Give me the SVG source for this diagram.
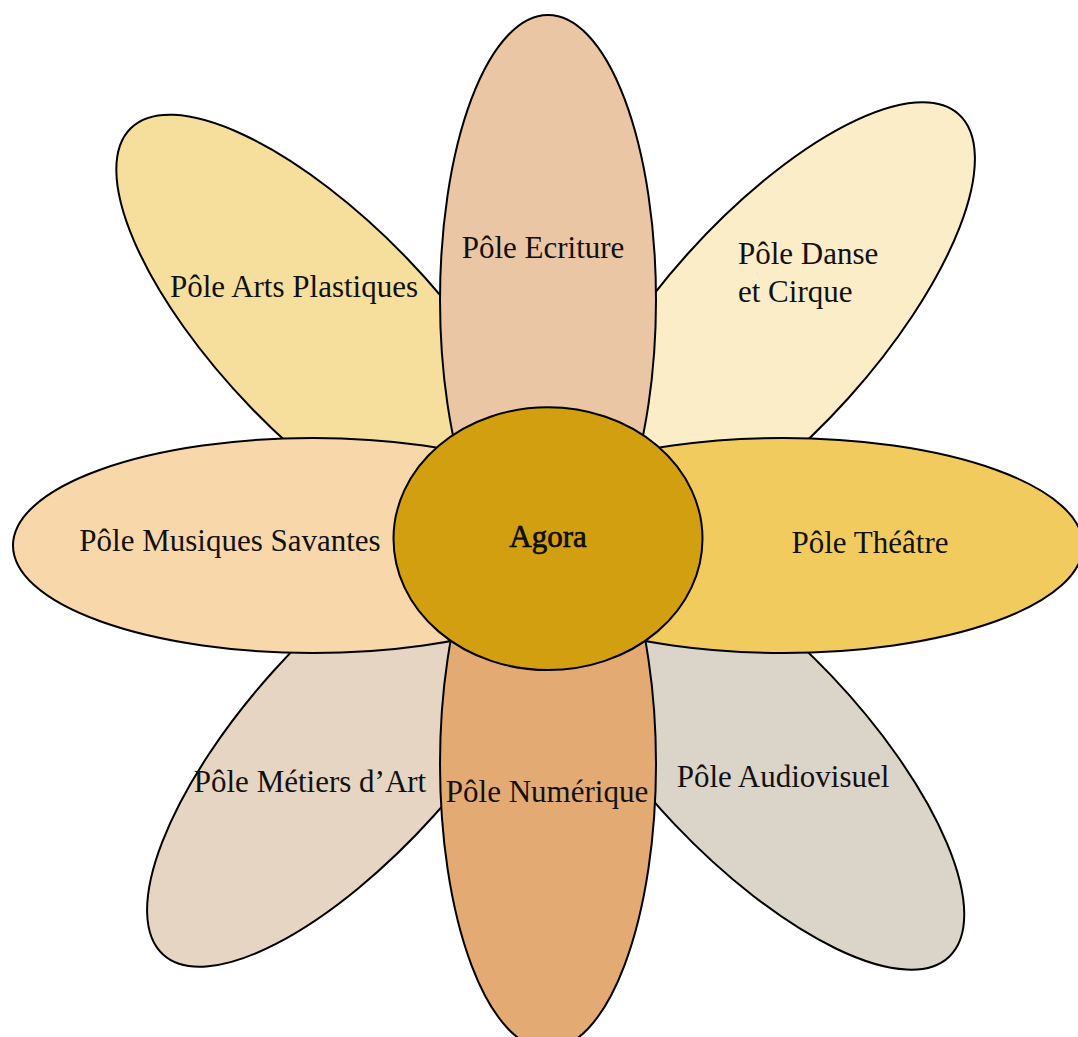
<svg xmlns="http://www.w3.org/2000/svg" width="1078" height="1037" viewBox="0 0 1078 1037">
<style>
.petal{stroke:#000;stroke-width:2}
.lbl{font-family:"Liberation Serif","Times New Roman",serif;font-size:31px;fill:#111}
.mid{text-anchor:middle}
</style>
<rect x="0" y="0" width="1078" height="1037" fill="#fff"/>
<g id="connectors"/>
<g id="pole-arts-plastiques">
<ellipse class="petal" cx="329" cy="333" rx="108" ry="285" transform="rotate(-44 329 333)" fill="#F6DF9C"/>
<text class="lbl mid" x="294" y="297">Pôle Arts Plastiques</text>
</g>
<g id="pole-danse-cirque">
<ellipse class="petal" cx="768" cy="326" rx="108" ry="285" transform="rotate(42 768 326)" fill="#FBEDC8"/>
<text class="lbl" x="738" y="264">Pôle Danse</text>
<text class="lbl" x="738" y="302">et Cirque</text>
</g>
<g id="pole-metiers-art">
<ellipse class="petal" cx="354" cy="743" rx="108" ry="285" transform="rotate(42 354 743)" fill="#E6D5C2"/>
<text class="lbl mid" x="310" y="792">Pôle Métiers d’Art</text>
</g>
<g id="pole-audiovisuel">
<ellipse class="petal" cx="753" cy="750" rx="108" ry="285" transform="rotate(-43.5 753 750)" fill="#DBD4C8"/>
<text class="lbl mid" x="783" y="787">Pôle Audiovisuel</text>
</g>
<g id="pole-ecriture">
<ellipse class="petal" cx="548" cy="300" rx="108" ry="285" fill="#EBC6A4"/>
<text class="lbl mid" x="543" y="258">Pôle Ecriture</text>
</g>
<g id="pole-numerique">
<ellipse class="petal" cx="548" cy="764" rx="108" ry="285" fill="#E3AA74"/>
<text class="lbl mid" x="547" y="802">Pôle Numérique</text>
</g>
<g id="pole-musiques-savantes">
<ellipse class="petal" cx="313" cy="545.5" rx="300" ry="107.5" fill="#F8D8AA"/>
<text class="lbl mid" x="230" y="551">Pôle Musiques Savantes</text>
</g>
<g id="pole-theatre">
<ellipse class="petal" cx="783" cy="545.5" rx="300" ry="107.5" fill="#F2CB5F"/>
<text class="lbl mid" x="870" y="553">Pôle Théâtre</text>
</g>
<g id="agora">
<ellipse class="petal" cx="548" cy="538.7" rx="154.5" ry="131.4" fill="#D19F0F"/>
<text class="lbl mid" x="548" y="547" stroke="#000" stroke-width="0.6">Agora</text>
</g>
</svg>
